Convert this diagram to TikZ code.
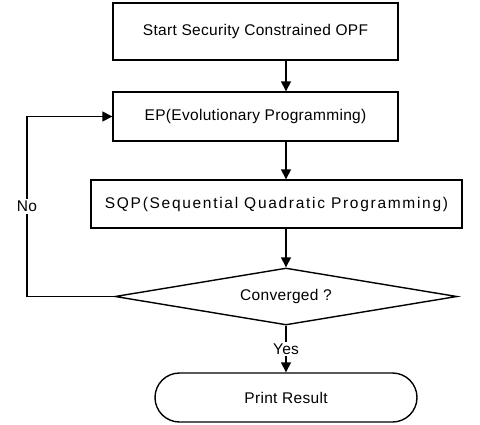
\documentclass[tikz,border=0pt]{standalone}
\usepackage{fontspec}
\setmainfont[LetterSpace=2]{Liberation Sans}
\usetikzlibrary{shapes.geometric,shapes.misc,arrows.meta}

\begin{document}
\begin{tikzpicture}[x=1pt, y=-1pt, line width=1.4pt,
		font=\fontsize{15.5}{18}\selectfont,
		box/.style = {draw, rectangle, inner sep=0pt},
		flow/.style = {-{Triangle[length=10pt,width=10pt]}},
		lbl/.style = {fill=white, inner sep=2pt}]
	      	\useasboundingbox (0,0) rectangle (480,424);
	      	\node[box, minimum width=285, minimum height=57] (start) at (255.5,31.5) {Start Security Constrained OPF};
	      	\node[box, minimum width=285, minimum height=49] (ep) at (255.5,116.5) {EP(Evolutionary Programming)};
	      	\node[box, minimum width=371, minimum height=48] (sqp) at (276.5,204)
	      		{\addfontfeatures{LetterSpace=11}SQP(Sequential Quadratic Programming)};
	      	\node[draw, diamond, aspect=6, inner sep=0pt, minimum width=342, minimum height=57] (conv) at (286,296.5) {Converged ?};
	      	\node[draw, rounded rectangle, inner sep=0pt, minimum width=262, minimum height=49] (result) at (286,397.5) {Print Result};
	      	\coordinate (back) at (27,296.5);
	      	\draw[flow] (start.south -| conv.north) -- (ep.north -| conv.north);
	      	\draw[flow] (ep.south -| conv.north) -- (sqp.north -| conv.north);
	      	\draw[flow] (sqp.south -| conv.north) -- (conv.north);
	      	\draw[flow] (conv.south) -- node[lbl] {Yes} (result.north);
	      	\draw[flow] (conv.west) -- (back) -- node[lbl] {No} (back |- ep.west) -- (ep.west);
	      \end{tikzpicture}
\end{document}
